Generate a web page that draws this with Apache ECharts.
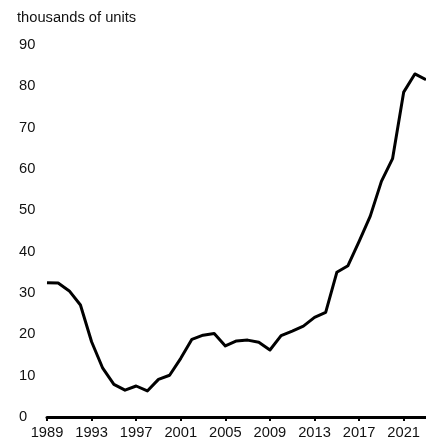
<!DOCTYPE html>
<html>
<head>
<meta charset="utf-8">
<script src="https://cdn.jsdelivr.net/npm/echarts@6/dist/echarts.min.js"></script>
<style>
html,body{margin:0;padding:0;background:#fff;}
#c{width:426px;height:441px;}
</style>
</head>
<body>
<div id="c"></div>
<script>
const years = [1989,1990,1991,1992,1993,1994,1995,1996,1997,1998,1999,2000,2001,2002,2003,2004,2005,2006,2007,2008,2009,2010,2011,2012,2013,2014,2015,2016,2017,2018,2019,2020,2021,2022,2023];
const values = [32.5,32.4,30.5,27.1,18.2,11.8,7.9,6.5,7.5,6.3,9.1,10.1,14.2,18.8,19.8,20.2,17.2,18.4,18.6,18.1,16.2,19.7,20.8,22.0,24.1,25.3,35.0,36.6,42.5,48.6,57.0,62.5,78.6,83.0,81.6];
const yTicks = [0,10,20,30,40,50,60,70,80,90];
const unitLabel = 'thousands of units';

const chart = echarts.init(document.getElementById('c'), null, {renderer:'canvas'});
const font = 'Liberation Sans, Arial, sans-serif';
chart.setOption({
  animation: false,
  backgroundColor: '#fff',
  graphic: [{
    type: 'text', left: 17, top: 10,
    style: {text: unitLabel, font: '14.7px ' + font, fill: '#111'}
  }],
  grid: {left: 47, right: -4.5, top: 45, bottom: 24, containLabel: false},
  xAxis: {
    type: 'category',
    data: years.map(String),
    boundaryGap: false,
    axisLine: {show: true, lineStyle: {color: '#000', width: 3}},
    axisTick: {show: true, interval: 3, length: 4, lineStyle: {color: '#000', width: 2}},
    axisLabel: {interval: 3, color: '#111', fontSize: 14.7, fontFamily: font, margin: 8},
    splitLine: {show: false}
  },
  yAxis: {
    type: 'value',
    min: yTicks[0], max: yTicks[yTicks.length-1], interval: 10,
    axisLine: {show: false},
    axisTick: {show: false},
    splitLine: {show: false},
    axisLabel: {align: 'left', margin: 28, color: '#111', fontSize: 14.7, fontFamily: font}
  },
  series: [{
    type: 'line',
    data: values,
    symbol: 'none',
    smooth: false,
    lineStyle: {color: '#000', width: 3, join: 'round'},
    clip: false
  }]
});
</script>
</body>
</html>
